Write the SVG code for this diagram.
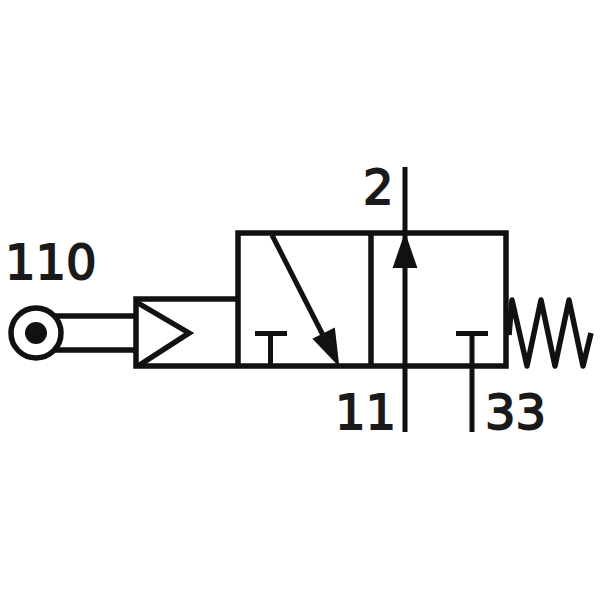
<svg xmlns="http://www.w3.org/2000/svg" width="600" height="600" viewBox="0 0 600 600">
<style>
.l{fill:none;stroke:#111;stroke-width:5.500;stroke-linejoin:miter}
.t{stroke-width:5}
.h{fill:#111;stroke:#111;stroke-width:2;stroke-linejoin:miter}
text{font-family:"DejaVu Sans","Liberation Sans",sans-serif;font-size:48px;fill:#1a1a1a;stroke:#1a1a1a;stroke-width:1.800}
</style>
<rect width="600" height="600" fill="#fff"/>
<g id="connectors">
<path class="l" d="M50 316H136M50 350H136"/>
<path class="l t" d="M405 167V432"/>
<path class="l t" d="M472 336V432"/>
</g>
<g id="valve-body">
<path class="l" d="M238 299V233H506V366H136V299H238V366"/>
<path class="l" d="M371 233V366"/>
</g>
<g id="roller">
<circle class="l" cx="36" cy="333" r="25" style="fill:#fff"/>
<circle cx="36" cy="333" r="11" fill="#111"/>
</g>
<g id="actuator">
<path class="l" d="M138 303L189 333L138 366"/>
</g>
<g id="flow-left">
<path class="l t" d="M272 235L328 345"/>
<path class="h" d="M338 364L314 339L334 329Z"/>
<path class="l t" d="M255 333.500H287M270.500 333.500V366"/>
</g>
<g id="flow-right">
<path class="h" d="M405 235L416 267H394Z"/>
<path class="l t" d="M456 333.500H488"/>
</g>
<g id="spring">
<path class="l" d="M509 335L512 300L527 366L541 300L555 366L569 300L583 366L591 333" style="stroke-linejoin:round"/>
</g>
<g id="labels">
<text x="5" y="279">110</text>
<text x="363" y="204">2</text>
<text x="335" y="429">11</text>
<text x="485" y="429">33</text>
</g>
</svg>
